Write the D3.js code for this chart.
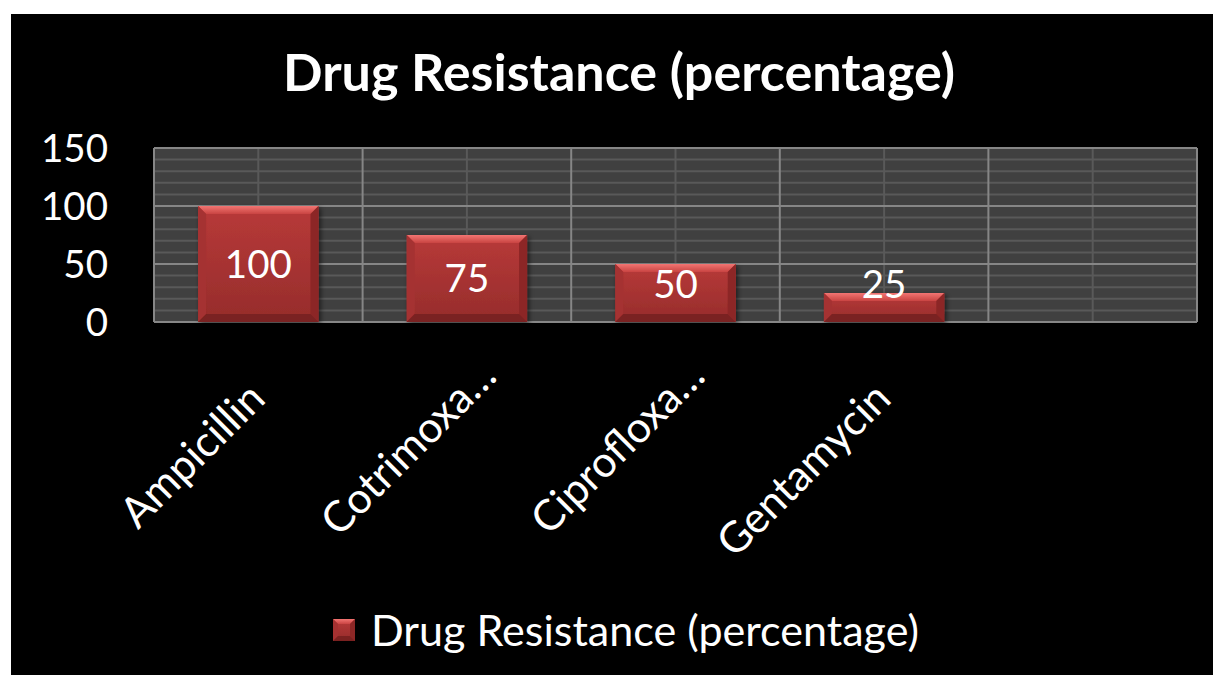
<!DOCTYPE html>
<html>
<head>
<meta charset="utf-8">
<script src="https://cdn.jsdelivr.net/npm/d3@7"></script>
<style>
  html, body { margin: 0; padding: 0; background: #ffffff; }
  svg { display: block; }
  text { font-family: Lato, "Open Sans", sans-serif; }
</style>
</head>
<body>
<svg id="chart" width="1213" height="675"></svg>
<script>
// ---- data ----
const chartTitle = "Drug Resistance (percentage)";
const seriesName = "Drug Resistance (percentage)";
const categories = ["Ampicillin", "Cotrimoxa…", "Ciprofloxa…", "Gentamycin", ""];
const values = [100, 75, 50, 25, null];
const yTicks = [0, 50, 100, 150];
const yMinorTicks = [10, 20, 30, 40, 60, 70, 80, 90, 110, 120, 130, 140];

// ---- layout ----
const W = 1213, H = 675;
const plot = { left: 154, right: 1197, top: 148, bottom: 322 };

const svg = d3.select("#chart");
const defs = svg.append("defs");

// gradients for bevelled bars
const gFace = defs.append("linearGradient").attr("id", "face").attr("x1", 0).attr("y1", 0).attr("x2", 0).attr("y2", 1);
gFace.append("stop").attr("offset", "0%").attr("stop-color", "#b83a39");
gFace.append("stop").attr("offset", "100%").attr("stop-color", "#962c2b");
const gTop = defs.append("linearGradient").attr("id", "topbev").attr("x1", 0).attr("y1", 0).attr("x2", 0).attr("y2", 1);
gTop.append("stop").attr("offset", "0%").attr("stop-color", "#f27572");
gTop.append("stop").attr("offset", "100%").attr("stop-color", "#c94442");
const shadow = defs.append("filter").attr("id", "shadow").attr("x", "-20%").attr("y", "-20%").attr("width", "140%").attr("height", "140%");
shadow.append("feDropShadow").attr("dx", 2).attr("dy", 2).attr("stdDeviation", 2.5)
  .attr("flood-color", "#000").attr("flood-opacity", 0.55);

// background
svg.append("rect").attr("x", 0).attr("y", 0).attr("width", W).attr("height", H).attr("fill", "#ffffff");
svg.append("rect").attr("x", 11).attr("y", 14).attr("width", W - 11).attr("height", H - 14).attr("fill", "#000000");

// scales
const x = d3.scaleBand().domain(categories.map((c, i) => i)).range([plot.left, plot.right]).paddingInner(0).paddingOuter(0);
const y = d3.scaleLinear().domain([0, 150]).range([plot.bottom, plot.top]);
const barFrac = 0.577;

// plot area
svg.append("rect")
  .attr("x", plot.left).attr("y", plot.top)
  .attr("width", plot.right - plot.left).attr("height", plot.bottom - plot.top)
  .attr("fill", "#404040");

// minor horizontal gridlines
svg.append("g").selectAll("line").data(yMinorTicks).join("line")
  .attr("x1", plot.left).attr("x2", plot.right)
  .attr("y1", d => y(d)).attr("y2", d => y(d))
  .attr("stroke", "#595959").attr("stroke-width", 2);

// minor vertical gridlines (category centres)
svg.append("g").selectAll("line").data(categories.map((c, i) => i)).join("line")
  .attr("x1", d => x(d) + x.bandwidth() / 2).attr("x2", d => x(d) + x.bandwidth() / 2)
  .attr("y1", plot.top).attr("y2", plot.bottom)
  .attr("stroke", "#595959").attr("stroke-width", 2);

// major horizontal gridlines
svg.append("g").selectAll("line").data(yTicks).join("line")
  .attr("x1", plot.left).attr("x2", plot.right)
  .attr("y1", d => y(d)).attr("y2", d => y(d))
  .attr("stroke", "#868686").attr("stroke-width", 2);

// major vertical gridlines (category boundaries)
const bounds = categories.map((c, i) => x(i)).concat([plot.right]);
svg.append("g").selectAll("line").data(bounds).join("line")
  .attr("x1", d => d).attr("x2", d => d)
  .attr("y1", plot.top).attr("y2", plot.bottom)
  .attr("stroke", "#868686").attr("stroke-width", 2);

// bevel helper
function bevel(g, bx, by, bw, bh, b) {
  b = Math.min(b, bw / 2, bh / 2);
  g.append("rect").attr("x", bx).attr("y", by).attr("width", bw).attr("height", bh).attr("fill", "url(#face)");
  const pts = a => a.map(p => p.join(",")).join(" ");
  g.append("polygon").attr("points", pts([[bx, by], [bx + bw, by], [bx + bw - b, by + b], [bx + b, by + b]])).attr("fill", "url(#topbev)");
  g.append("polygon").attr("points", pts([[bx, by], [bx + b, by + b], [bx + b, by + bh - b], [bx, by + bh]])).attr("fill", "#a53131");
  g.append("polygon").attr("points", pts([[bx + bw, by], [bx + bw, by + bh], [bx + bw - b, by + bh - b], [bx + bw - b, by + b]])).attr("fill", "#8c2726");
  g.append("polygon").attr("points", pts([[bx, by + bh], [bx + b, by + bh - b], [bx + bw - b, by + bh - b], [bx + bw, by + bh]])).attr("fill", "#7a2120");
}

// bars
const barData = values.map((v, i) => ({ i, v })).filter(d => d.v != null);
const barsG = svg.append("g");
barData.forEach(d => {
  const bw = x.bandwidth() * barFrac;
  const bx = x(d.i) + (x.bandwidth() - bw) / 2;
  const g = barsG.append("g").attr("filter", "url(#shadow)");
  bevel(g, bx, y(d.v), bw, y(0) - y(d.v), 8);
});

// text fitting helper
function fitSize(str, target, weight) {
  const t = svg.append("text").attr("font-size", 100).attr("font-weight", weight || 400).text(str);
  const len = t.node().getComputedTextLength();
  t.remove();
  return 100 * target / len;
}

const tickSize = fitSize("150", 67);
const catSize = fitSize("Ampicillin", 183);
const legendSize = fitSize(seriesName, 548);
const titleSize = fitSize(chartTitle, 672, 700);

// data labels
svg.append("g").selectAll("text").data(barData).join("text")
  .attr("x", d => x(d.i) + x.bandwidth() / 2)
  .attr("y", d => Math.min((y(d.v) + y(0)) / 2, y(0) - 38))
  .attr("dy", "0.36em")
  .attr("text-anchor", "middle")
  .attr("font-size", tickSize)
  .attr("fill", "#ffffff")
  .text(d => d.v);

// y axis labels
svg.append("g").selectAll("text").data(yTicks).join("text")
  .attr("x", plot.left - 46)
  .attr("y", d => y(d))
  .attr("dy", "0.36em")
  .attr("text-anchor", "end")
  .attr("font-size", tickSize)
  .attr("fill", "#ffffff")
  .text(d => d);

// category labels, rotated -45
svg.append("g").selectAll("text").data(categories.map((c, i) => ({ c, i })).filter(d => d.c)).join("text")
  .attr("transform", d => `translate(${x(d.i) + x.bandwidth() / 2 + 9},${plot.bottom + 79}) rotate(-45)`)
  .attr("dx", d => d.c.endsWith("…") ? 32 : 0)
  .attr("text-anchor", "end")
  .attr("font-size", catSize)
  .attr("fill", "#ffffff")
  .text(d => d.c);

// title
svg.append("text")
  .attr("x", 619).attr("y", 72).attr("dy", "0.36em")
  .attr("text-anchor", "middle")
  .attr("font-size", titleSize).attr("font-weight", 700)
  .attr("fill", "#ffffff")
  .text(chartTitle);

// legend
const lg = svg.append("g");
bevel(lg, 333, 619, 22, 22, 5);
lg.append("text")
  .attr("x", 371).attr("y", 630).attr("dy", "0.36em")
  .attr("font-size", legendSize)
  .attr("fill", "#ffffff")
  .text(seriesName);
</script>
</body>
</html>
